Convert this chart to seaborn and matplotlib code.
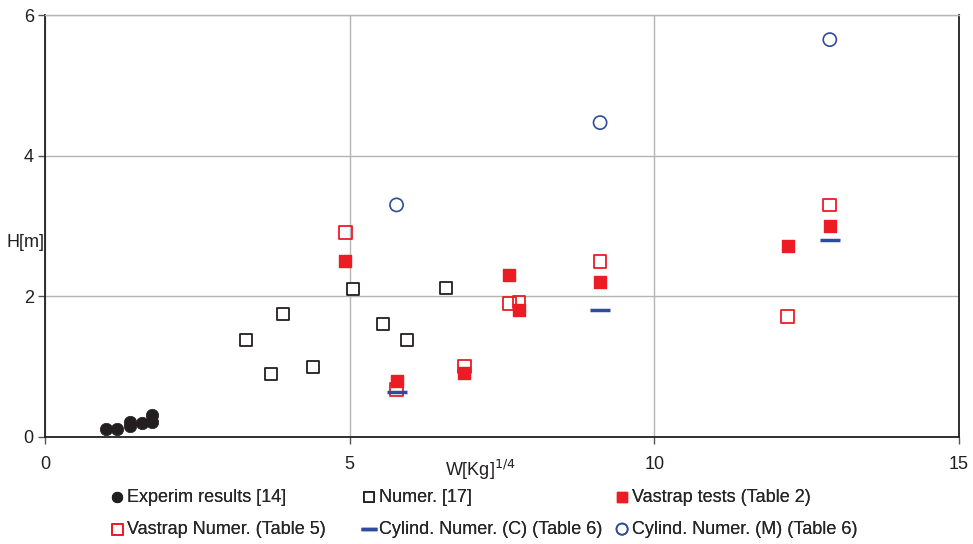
import numpy as np
import pandas as pd
import matplotlib
matplotlib.use("Agg")
import matplotlib.pyplot as plt
import seaborn as sns

# =========================
# Data
# =========================
exp_x = [1.01, 1.18, 1.40, 1.40, 1.59, 1.75, 1.76]
exp_y = [0.11, 0.11, 0.16, 0.21, 0.20, 0.21, 0.31]

num17_x = [3.30, 3.71, 3.91, 4.40, 5.06, 5.55, 5.94, 6.58]
num17_y = [1.38, 0.89, 1.75, 0.99, 2.11, 1.61, 1.38, 2.12]

vtest_x = [4.93, 5.77, 6.88, 7.62, 7.78, 9.11, 12.19, 12.88]
vtest_y = [2.50, 0.79, 0.91, 2.30, 1.81, 2.20, 2.71, 3.00]

vnum_x = [4.93, 5.77, 6.88, 7.62, 7.78, 9.11, 12.19, 12.88]
vnum_y = [2.91, 0.68, 1.00, 1.90, 1.92, 2.50, 1.71, 3.30]

cylc_x = [5.77, 9.11, 12.88]
cylc_y = [0.64, 1.81, 2.80]

cylm_x = [5.77, 9.11, 12.88]
cylm_y = [3.30, 4.47, 5.65]

labels = [
    "Experim results [14]",
    "Numer. [17]",
    "Vastrap tests (Table 2)",
    "Vastrap Numer. (Table 5)",
    "Cylind. Numer. (C) (Table 6)",
    "Cylind. Numer. (M) (Table 6)",
]

RED = "#ED1C24"
BLUE = "#2E4C9C"
BLACK = "#231F20"

# =========================
# Figure
# =========================
sns.set_style("white")
plt.rcParams["font.family"] = ["Liberation Sans", "DejaVu Sans"]

fig = plt.figure(figsize=(9.73, 5.44), dpi=100)
ax = fig.add_axes([0.0462, 0.1967, 0.9394, 0.7757])

sns.scatterplot(x=exp_x, y=exp_y, ax=ax, marker="o", s=80,
                color=BLACK, edgecolor=BLACK, linewidth=0.5, label=labels[0], zorder=3)
sns.scatterplot(x=num17_x, y=num17_y, ax=ax, marker="s", s=85,
                facecolor="white", edgecolor=BLACK, linewidth=1.3, label=labels[1], zorder=3)
sns.scatterplot(x=vtest_x, y=vtest_y, ax=ax, marker="s", s=85,
                color=RED, edgecolor=RED, linewidth=1.0, label=labels[2], zorder=4)
sns.scatterplot(x=vnum_x, y=vnum_y, ax=ax, marker="s", s=85,
                facecolor="none", edgecolor=RED, linewidth=1.3, label=labels[3], zorder=3)
sns.scatterplot(x=cylc_x, y=cylc_y, ax=ax, marker="_", s=200,
                color=BLUE, linewidth=2.5, label=labels[4], zorder=5)
sns.scatterplot(x=cylm_x, y=cylm_y, ax=ax, marker="o", s=90,
                facecolor="none", edgecolor=BLUE, linewidth=1.2, label=labels[5], zorder=3)

# =========================
# Axes styling
# =========================
ax.set_xlim(0, 15)
ax.set_ylim(0, 6)
ax.set_xticks([0, 5, 10, 15])
ax.set_yticks([0, 2, 4, 6])
ax.grid(True, color="#B4B4B4", linewidth=1.0)
ax.set_axisbelow(True)

for side in ["left", "bottom", "right"]:
    ax.spines[side].set_color(BLACK)
    ax.spines[side].set_linewidth(1.3)
ax.spines["top"].set_color("#B4B4B4")
ax.spines["top"].set_linewidth(1.0)

ax.tick_params(axis="both", which="both", direction="out", length=5,
               width=1, color="#555555", labelsize=13, labelcolor=BLACK,
               left=True, bottom=True, pad=3)
ax.tick_params(axis="x", pad=9)

ax.set_xlabel(r"W[Kg]$^{1/4}$", fontsize=13, color=BLACK)
ax.xaxis.set_label_coords(0.476, -0.05)
ax.set_ylabel("H[m]", fontsize=13, rotation=0, color=BLACK)
ax.yaxis.set_label_coords(0.0, 0.46)
ax.yaxis.label.set_horizontalalignment("right")
ax.yaxis.label.set_verticalalignment("center")

# Legend below the plot: three equal-width columns, two rows
handles, labs = ax.get_legend_handles_labels()
ax.get_legend().remove()
col_x = [0.112, 0.371, 0.631]
for c in range(3):
    idx = [c, c + 3]
    lg = fig.legend([handles[i] for i in idx], [labs[i] for i in idx],
                    ncol=1, frameon=False, loc="upper left",
                    bbox_to_anchor=(col_x[c], 0.102), fontsize=13,
                    handletextpad=0.1, labelspacing=0.85, markerscale=0.85,
                    handlelength=0.9, borderpad=0, borderaxespad=0)
    fig.add_artist(lg)

fig.savefig("out.png", dpi=100)
